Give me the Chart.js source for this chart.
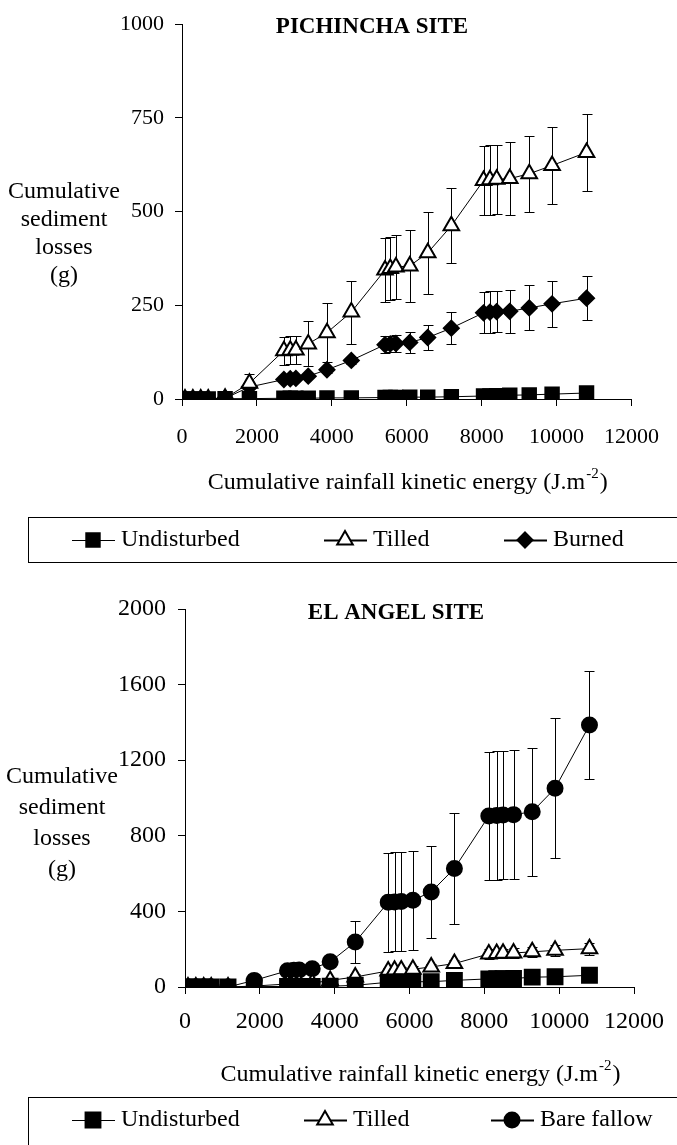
<!DOCTYPE html>
<html>
<head>
<meta charset="utf-8">
<script src="https://cdn.jsdelivr.net/npm/chart.js@4.4.1/dist/chart.umd.min.js"></script>
<style>
  body { margin: 0; background: #fff; }
  canvas { display: block; }
</style>
</head>
<body>
<canvas id="chartPichincha" width="677" height="575"></canvas>
<canvas id="chartElAngel" width="677" height="570"></canvas>
<script>
// energia cinetica acumulada da chuva (J.m-2) - eixo x
const energiaPichincha = [80, 290, 500, 700, 1150, 1800, 2720, 2890, 3040, 3370, 3870, 4520, 5420, 5560, 5710, 6080, 6560, 7190, 8050, 8220, 8400, 8750, 9270, 9880, 10800];
const energiaAngel = [80, 290, 500, 700, 1150, 1850, 2740, 2910, 3050, 3400, 3880, 4550, 5430, 5600, 5780, 6090, 6580, 7200, 8120, 8330, 8500, 8780, 9280, 9890, 10810];

const ticksX = [0, 2000, 4000, 6000, 8000, 10000, 12000];
const ticksPichincha = [0, 250, 500, 750, 1000];
const ticksAngel = [0, 400, 800, 1200, 1600, 2000];

// Pichincha (g)
const pichUndisturbed = [0, 0, 0, 0, 1, 1, 2, 2, 2, 2, 3, 3, 4, 4, 4, 5, 5, 6, 8, 8, 9, 10, 11, 13, 16];
const pichTilled = [0, 0, 0, 0, 2, 42, 129, 130, 131, 147, 177, 232, 344, 348, 352, 355, 390, 462, 583, 585, 586, 588, 601, 623, 658];
const pichTilledErr = [0, 0, 0, 0, 0, 24, 37, 37, 37, 60, 78, 84, 85, 85, 85, 96, 110, 100, 93, 93, 93, 97, 102, 103, 103];
const pichBurned = [0, 0, 0, 0, 2, 32, 52, 54, 55, 61, 78, 103, 145, 147, 148, 151, 164, 189, 230, 232, 233, 234, 243, 254, 269];
const pichBurnedErr = [0, 0, 0, 0, 0, 0, 5, 5, 5, 6, 8, 10, 22, 22, 22, 27, 33, 43, 55, 55, 55, 58, 60, 61, 58];

// El Angel (g)
const angelUndisturbed = [0, 0, 0, 0, 0, 2, 3, 3, 3, 3, 4, 9, 25, 26, 27, 28, 28, 35, 43, 44, 44, 45, 52, 54, 62];
const angelTilled = [0, 0, 0, 0, 0, 5, 16, 17, 18, 20, 35, 53, 85, 88, 90, 94, 106, 124, 175, 177, 178, 180, 186, 194, 203];
const angelTilledErr = [0, 0, 0, 0, 0, 0, 5, 5, 5, 8, 10, 15, 15, 15, 15, 15, 18, 20, 25, 25, 25, 25, 28, 30, 32];
const angelBare = [0, 0, 0, 0, 0, 35, 86, 88, 90, 97, 133, 238, 448, 450, 452, 459, 503, 627, 905, 908, 910, 912, 927, 1051, 1386];
const angelBareErr = [0, 0, 0, 0, 0, 0, 0, 0, 0, 0, 0, 110, 262, 262, 262, 262, 245, 292, 340, 340, 340, 340, 340, 370, 285];

const FONTE = "'Liberation Serif', 'DejaVu Serif', serif";

function pontos(xs, ys) {
    return xs.map((x, i) => ({ x: x, y: ys[i] }));
}

function desenharMarcador(ctx, estilo, x, y, r, preenchimento) {
    ctx.beginPath();
    if (estilo === 'rect') {
        const s = Math.SQRT1_2 * r;
        ctx.rect(x - s, y - s, 2 * s, 2 * s);
    } else if (estilo === 'triangle') {
        ctx.moveTo(x, y - r);
        ctx.lineTo(x + 0.866 * r, y + 0.5 * r);
        ctx.lineTo(x - 0.866 * r, y + 0.5 * r);
        ctx.closePath();
    } else if (estilo === 'rectRot') {
        ctx.moveTo(x, y - r);
        ctx.lineTo(x + r, y);
        ctx.lineTo(x, y + r);
        ctx.lineTo(x - r, y);
        ctx.closePath();
    } else {
        ctx.arc(x, y, r, 0, Math.PI * 2);
    }
    ctx.fillStyle = preenchimento;
    ctx.fill();
    ctx.lineWidth = 2;
    ctx.strokeStyle = '#000';
    ctx.stroke();
}

// barras de erro (desvio) desenhadas antes dos marcadores
const barrasErro = {
    id: 'barrasErro',
    beforeDatasetsDraw(chart) {
        const ctx = chart.ctx;
        const sx = chart.scales.x, sy = chart.scales.y;
        ctx.save();
        ctx.strokeStyle = '#000';
        ctx.lineWidth = 1;
        chart.data.datasets.forEach(ds => {
            if (!ds.erros) return;
            ds.data.forEach((p, i) => {
                const e = ds.erros[i];
                if (!e) return;
                const px = Math.round(sx.getPixelForValue(p.x)) + 0.5;
                const yTopo = Math.round(sy.getPixelForValue(p.y + e)) + 0.5;
                const yBase = Math.round(sy.getPixelForValue(Math.max(p.y - e, 0))) + 0.5;
                ctx.beginPath();
                ctx.moveTo(px, yTopo); ctx.lineTo(px, yBase);
                ctx.moveTo(px - 5, yTopo); ctx.lineTo(px + 5, yTopo);
                ctx.moveTo(px - 5, yBase); ctx.lineTo(px + 5, yBase);
                ctx.stroke();
            });
        });
        ctx.restore();
    }
};

// titulo, rotulos dos eixos e legenda em caixa
const textos = {
    id: 'textos',
    afterDraw(chart, args, opts) {
        const ctx = chart.ctx;
        const area = chart.chartArea;
        ctx.save();
        ctx.fillStyle = '#000';
        ctx.textBaseline = 'middle';

        ctx.font = 'bold 23px ' + FONTE;
        ctx.textAlign = 'center';
        ctx.fillText(opts.titulo, opts.tituloX, opts.tituloY);

        ctx.font = '24px ' + FONTE;
        opts.rotuloY.forEach((linha, i) => {
            ctx.fillText(linha, opts.rotuloYX, opts.rotuloYTopo + i * opts.rotuloYPasso);
        });

        // titulo do eixo x com expoente
        const base = 'Cumulative rainfall kinetic energy (J.m';
        ctx.font = '24px ' + FONTE;
        const w1 = ctx.measureText(base).width;
        ctx.font = '15px ' + FONTE;
        const w2 = ctx.measureText('-2').width;
        ctx.font = '24px ' + FONTE;
        const w3 = ctx.measureText(')').width;
        let x0 = (area.left + area.right) / 2 + opts.eixoXDesloc - (w1 + w2 + w3) / 2;
        ctx.textAlign = 'left';
        ctx.fillText(base, x0, opts.eixoXY);
        ctx.font = '15px ' + FONTE;
        ctx.fillText('-2', x0 + w1 + 1, opts.eixoXY - 9);
        ctx.font = '24px ' + FONTE;
        ctx.fillText(')', x0 + w1 + w2 + 2, opts.eixoXY);

        // legenda
        ctx.lineWidth = 1;
        ctx.strokeStyle = '#000';
        ctx.strokeRect(opts.caixa[0] + 0.5, opts.caixa[1] + 0.5, opts.caixa[2], opts.caixa[3]);
        chart.data.datasets.forEach((ds, i) => {
            const mx = opts.legendaX[i], my = opts.legendaY;
            ctx.beginPath();
            ctx.moveTo(mx - 21, my + 0.5); ctx.lineTo(mx + 22, my + 0.5);
            ctx.stroke();
            desenharMarcador(ctx, ds.pointStyle, mx, my, ds.pointRadius, ds.pointBackgroundColor);
            ctx.fillStyle = '#000';
            ctx.font = '24px ' + FONTE;
            ctx.textAlign = 'left';
            ctx.fillText(ds.label, mx + 28, my);
        });
        ctx.restore();
    }
};

function serie(label, xs, ys, erros, estilo, raio, fundo) {
    return {
        label: label,
        data: pontos(xs, ys),
        erros: erros,
        borderColor: '#000',
        borderWidth: 1,
        pointStyle: estilo,
        pointRadius: raio,
        pointHoverRadius: raio,
        pointBackgroundColor: fundo,
        pointBorderColor: '#000',
        pointBorderWidth: 2,
        tension: 0,
        fill: false
    };
}

function montarGrafico(id, datasets, yTicks, cfg) {
    const ctx = document.getElementById(id).getContext('2d');
    return new Chart(ctx, {
        type: 'line',
        data: { datasets: datasets },
        plugins: [barrasErro, textos],
        options: {
            responsive: false,
            animation: false,
            layout: { padding: { top: cfg.topo, right: cfg.direita, left: 0, bottom: 0 } },
            plugins: {
                legend: { display: false },
                tooltip: { enabled: false },
                textos: cfg.textos
            },
            scales: {
                x: {
                    type: 'linear',
                    min: 0,
                    max: 12000,
                    afterBuildTicks: s => { s.ticks = ticksX.map(v => ({ value: v })); },
                    afterFit: s => { s.height = cfg.alturaX; },
                    grid: { display: true, drawOnChartArea: false, drawTicks: true, tickLength: 7, color: '#000' },
                    border: { color: '#000', width: 1 },
                    ticks: { color: '#000', font: { family: FONTE, size: cfg.fonteTicks }, padding: cfg.padX, maxRotation: 0, autoSkip: false, callback: v => String(v) }
                },
                y: {
                    type: 'linear',
                    min: 0,
                    max: yTicks[yTicks.length - 1],
                    afterBuildTicks: s => { s.ticks = yTicks.map(v => ({ value: v })); },
                    afterFit: s => { s.width = cfg.larguraY; },
                    grid: { display: true, drawOnChartArea: false, drawTicks: true, tickLength: 7, color: '#000' },
                    border: { color: '#000', width: 1 },
                    ticks: { color: '#000', font: { family: FONTE, size: cfg.fonteTicks }, padding: cfg.padY, callback: v => String(v) }
                }
            }
        }
    });
}

montarGrafico('chartPichincha', [
    serie('Undisturbed', energiaPichincha, pichUndisturbed, null, 'rect', 9.5, '#000'),
    serie('Tilled', energiaPichincha, pichTilled, pichTilledErr, 'triangle', 9, '#fff'),
    serie('Burned', energiaPichincha, pichBurned, pichBurnedErr, 'rectRot', 7.5, '#000')
], ticksPichincha, {
    topo: 20, direita: 38, alturaX: 176, larguraY: 182,
    fonteTicks: 22, padX: 18, padY: 11,
    textos: {
        titulo: 'PICHINCHA SITE', tituloX: 372, tituloY: 27,
        rotuloY: ['Cumulative', 'sediment', 'losses', '(g)'], rotuloYX: 64, rotuloYTopo: 192, rotuloYPasso: 28,
        eixoXY: 483, eixoXDesloc: 0,
        caixa: [28, 517, 700, 45],
        legendaX: [93, 345, 525], legendaY: 540
    }
});

montarGrafico('chartElAngel', [
    serie('Undisturbed', energiaAngel, angelUndisturbed, null, 'rect', 10.5, '#000'),
    serie('Tilled', energiaAngel, angelTilled, angelTilledErr, 'triangle', 9, '#fff'),
    serie('Bare fallow', energiaAngel, angelBare, angelBareErr, 'circle', 7.5, '#000')
], ticksAngel, {
    topo: 34, direita: 39, alturaX: 158, larguraY: 185,
    fonteTicks: 24, padX: 13, padY: 12,
    textos: {
        titulo: 'EL ANGEL SITE', tituloX: 396, tituloY: 38,
        rotuloY: ['Cumulative', 'sediment', 'losses', '(g)'], rotuloYX: 62, rotuloYTopo: 202, rotuloYPasso: 31,
        eixoXY: 500, eixoXDesloc: 10,
        caixa: [28, 522, 700, 60],
        legendaX: [93, 325, 512], legendaY: 545
    }
});
</script>
</body>
</html>
